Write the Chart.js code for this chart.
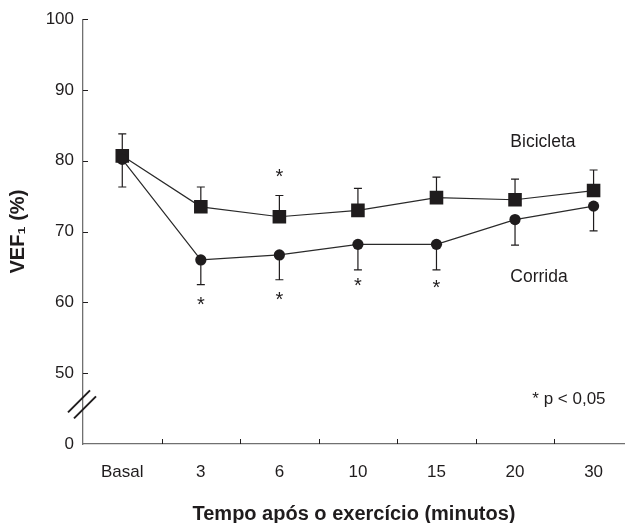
<!DOCTYPE html>
<html>
<head>
<meta charset="utf-8">
<script src="https://cdn.jsdelivr.net/npm/chart.js@4.4.1/dist/chart.umd.min.js"></script>
<style>
  html, body { margin: 0; padding: 0; background: #fff; }
  #wrap { width: 625px; height: 523px; position: relative; }
</style>
</head>
<body>
<div id="wrap"><canvas id="vefChart"></canvas></div>
<script>
/* ---------- Data ---------- */

const categories = ["Basal", "3", "6", "10", "15", "20", "30"];

const bikeValues = [80.7, 73.5, 72.1, 73.0, 74.8, 74.5, 75.8];
const bikeErrTop = [83.8, 76.3, 75.1, 76.1, 77.7, 77.4, 78.7];

const runValues = [80.2, 66.0, 66.7, 68.2, 68.2, 71.7, 73.6];
const runErrBottom = [76.3, 62.5, 63.2, 64.6, 64.6, 68.1, 70.1];

const yTickValues = [40, 50, 60, 70, 80, 90, 100];
const yTickLabels = ["0", "50", "60", "70", "80", "90", "100"];

// significance marks: category index and y value of the asterisk centre
const starIndex = [1, 2, 2, 3, 4];
const starValue = [60.3, 78.4, 61.0, 63.0, 62.8];

const seriesLabels = ["Bicicleta", "Corrida"];
const seriesLabelX = [4.94, 4.94];
const seriesLabelY = [82.6, 63.6];

const noteText = "* p < 0,05";
const noteX = 5.22;
const noteY = 46.3;

const INK = "#1f1c1d";
const AXIS = "#707070";

/* ---------- Helpers ---------- */

function points(values) {
  return values.map((v, i) => ({ x: i, y: v }));
}

const extras = {
  id: "extras",
  beforeDatasetsDraw(chart) {
    const { ctx } = chart;
    const xs = chart.scales.x;
    const ys = chart.scales.y;
    ctx.save();
    ctx.strokeStyle = INK;
    ctx.lineWidth = 1.2;
    const cap = 4;
    const bar = (i, from, to) => {
      const x = xs.getPixelForValue(i);
      const y1 = ys.getPixelForValue(from);
      const y2 = ys.getPixelForValue(to);
      ctx.beginPath();
      ctx.moveTo(x, y1);
      ctx.lineTo(x, y2);
      ctx.moveTo(x - cap, y2);
      ctx.lineTo(x + cap, y2);
      ctx.stroke();
    };
    bikeValues.forEach((v, i) => bar(i, v, bikeErrTop[i]));
    runValues.forEach((v, i) => bar(i, v, runErrBottom[i]));
    ctx.restore();
  },
  afterDraw(chart) {
    const { ctx, chartArea } = chart;
    const xs = chart.scales.x;
    const ys = chart.scales.y;
    ctx.save();

    // inward tick marks
    ctx.strokeStyle = INK;
    ctx.lineWidth = 1;
    for (let i = 0; i < categories.length - 1; i++) {
      const x = Math.round(xs.getPixelForValue(i + 0.5)) + 0.5;
      ctx.beginPath();
      ctx.moveTo(x, chartArea.bottom);
      ctx.lineTo(x, chartArea.bottom - 5);
      ctx.stroke();
    }
    yTickValues.slice(1).forEach(v => {
      const y = Math.round(ys.getPixelForValue(v)) + 0.5;
      ctx.beginPath();
      ctx.moveTo(chartArea.left, y);
      ctx.lineTo(chartArea.left + 5, y);
      ctx.stroke();
    });

    // axis break
    const by = ys.getPixelForValue(45.6);
    const bx = chartArea.left;
    ctx.strokeStyle = INK;
    ctx.lineWidth = 2;
    [-3, 3].forEach(d => {
      ctx.beginPath();
      ctx.moveTo(bx - 12 + d, by + 11 + d);
      ctx.lineTo(bx + 10 + d, by - 11 + d);
      ctx.stroke();
    });

    // asterisks
    ctx.fillStyle = INK;
    ctx.font = "20px Arial, 'Liberation Sans', sans-serif";
    ctx.textAlign = "center";
    ctx.textBaseline = "alphabetic";
    starIndex.forEach((idx, k) => {
      ctx.fillText("*", xs.getPixelForValue(idx), ys.getPixelForValue(starValue[k]) + 11);
    });

    // series labels and note
    ctx.font = "17.5px Arial, 'Liberation Sans', sans-serif";
    ctx.textAlign = "left";
    ctx.textBaseline = "middle";
    seriesLabels.forEach((t, k) => {
      ctx.fillText(t, xs.getPixelForValue(seriesLabelX[k]), ys.getPixelForValue(seriesLabelY[k]));
    });
    ctx.font = "17px Arial, 'Liberation Sans', sans-serif";
    ctx.fillText(noteText, xs.getPixelForValue(noteX), ys.getPixelForValue(noteY));

    ctx.restore();
  }
};

/* ---------- Chart ---------- */

new Chart(document.getElementById("vefChart"), {
  type: "line",
  data: {
    datasets: [
      {
        label: "Corrida",
        data: points(runValues),
        borderColor: "#2a2a2a",
        borderWidth: 1.2,
        pointStyle: "circle",
        pointRadius: 5.6,
        pointBackgroundColor: INK,
        pointBorderColor: INK,
        pointBorderWidth: 0,
        tension: 0
      },
      {
        label: "Bicicleta",
        data: points(bikeValues),
        borderColor: "#2a2a2a",
        borderWidth: 1.2,
        pointStyle: "rect",
        pointRadius: 9.6,
        pointBackgroundColor: INK,
        pointBorderColor: INK,
        pointBorderWidth: 0,
        tension: 0
      }
    ]
  },
  options: {
    responsive: true,
    maintainAspectRatio: false,
    animation: false,
    layout: { autoPadding: false, padding: { top: 19, right: 0, left: 0, bottom: 0 } },
    plugins: { legend: { display: false }, tooltip: { enabled: false } },
    scales: {
      x: {
        type: "linear",
        min: -0.5,
        max: 6.4,
        afterBuildTicks: s => { s.ticks = categories.map((c, i) => ({ value: i })); },
        afterFit: s => { s.height = 79; s.paddingLeft = 0; s.paddingRight = 0; },
        grid: { display: false, drawTicks: false },
        border: { display: true, color: AXIS, width: 1.3 },
        ticks: {
          padding: 18,
          color: INK,
          font: { family: "Arial, 'Liberation Sans', sans-serif", size: 17 },
          callback: v => categories[v]
        },
        title: {
          display: true,
          text: "Tempo após o exercício (minutos)",
          color: INK,
          font: { family: "Arial, 'Liberation Sans', sans-serif", size: 20, weight: "bold", lineHeight: 1 },
          padding: { top: 0, bottom: -1 }
        }
      },
      y: {
        min: 40,
        max: 100,
        afterBuildTicks: s => { s.ticks = yTickValues.map(v => ({ value: v })); },
        afterFit: s => { s.width = 83; },
        grid: { display: false, drawTicks: false },
        border: { display: true, color: AXIS, width: 1.3 },
        ticks: {
          padding: 9,
          color: INK,
          font: { family: "Arial, 'Liberation Sans', sans-serif", size: 17 },
          callback: v => yTickLabels[yTickValues.indexOf(v)]
        },
        title: {
          display: true,
          text: "VEF₁ (%)",
          color: INK,
          font: { family: "Arial, 'Liberation Sans', sans-serif", size: 20, weight: "bold" },
          padding: { top: 6, bottom: 0 }
        }
      }
    }
  },
  plugins: [extras]
});
</script>
</body>
</html>
